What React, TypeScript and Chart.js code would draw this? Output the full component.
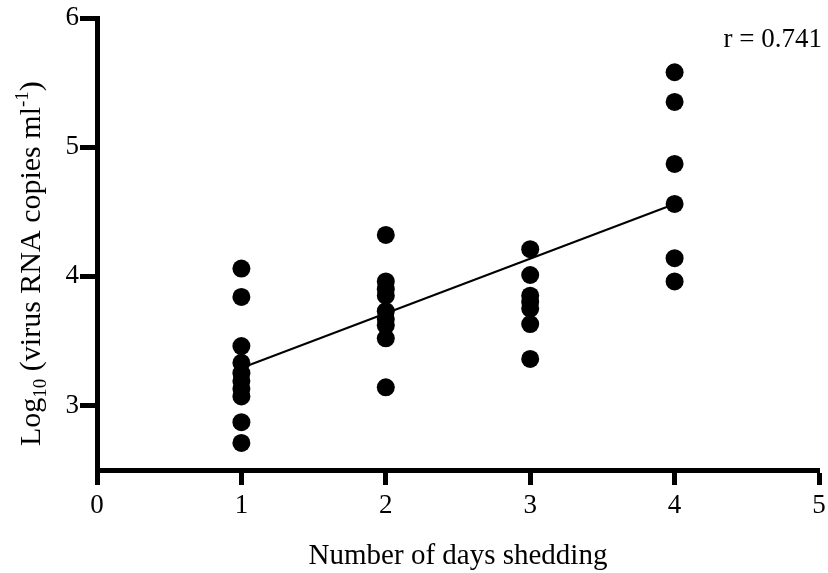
import React, { useEffect, useRef } from "react";
import { Chart, registerables } from "chart.js";

Chart.register(...registerables);

const days = [1, 2, 3, 4];
const day1Values = [4.06, 3.84, 3.46, 3.33, 3.25, 3.19, 3.13, 3.07, 2.87, 2.71];
const day2Values = [4.32, 3.96, 3.9, 3.85, 3.73, 3.67, 3.62, 3.52, 3.14];
const day3Values = [4.21, 4.01, 3.85, 3.8, 3.75, 3.63, 3.36];
const day4Values = [5.58, 5.35, 4.87, 4.56, 4.14, 3.96];
const fitX = [1, 4];
const fitY = [3.29, 4.56];
const xTicks = [0, 1, 2, 3, 4, 5];
const yTicks = [3, 4, 5, 6];
const xTitle = "Number of days shedding";
const rLabel = "r = 0.741";

const FONT = "'Liberation Serif', 'Times New Roman', serif";

const titlePlugin = {
  id: "customTitles",
  afterDraw(chart: any) {
    const ctx = chart.ctx;
    ctx.save();
    ctx.fillStyle = "#000";
    // x title
    ctx.font = `29px ${FONT}`;
    ctx.textAlign = "center";
    ctx.textBaseline = "alphabetic";
    ctx.fillText(xTitle, 458, 564);
    // r label
    ctx.font = `27px ${FONT}`;
    ctx.textAlign = "right";
    ctx.fillText(rLabel, 822, 47);
    // y title rotated with sub/superscript
    ctx.translate(40, 446);
    ctx.rotate(-Math.PI / 2);
    ctx.textAlign = "left";
    const parts: { t: string; size: number; dy: number }[] = [
      { t: "Log", size: 30, dy: 0 },
      { t: "10", size: 19, dy: 6 },
      { t: " (virus RNA copies ml", size: 30, dy: 0 },
      { t: "-1", size: 19, dy: -12 },
      { t: ")", size: 30, dy: 0 },
    ];
    let x = 0;
    for (const p of parts) {
      ctx.font = `${p.size}px ${FONT}`;
      ctx.fillText(p.t, x, p.dy);
      x += ctx.measureText(p.t).width;
    }
    ctx.restore();
  },
};

export default function App() {
  const ref = useRef<HTMLCanvasElement>(null);
  useEffect(() => {
    if (!ref.current) return;
    const toPts = (day: number, vals: number[]) => vals.map((v) => ({ x: day, y: v }));
    const points = [
      ...toPts(days[0], day1Values),
      ...toPts(days[1], day2Values),
      ...toPts(days[2], day3Values),
      ...toPts(days[3], day4Values),
    ];
    const chart = new Chart(ref.current, {
      type: "scatter",
      data: {
        datasets: [
          {
            type: "line",
            data: fitX.map((x, i) => ({ x, y: fitY[i] })),
            borderColor: "#000",
            borderWidth: 2,
            pointRadius: 0,
            fill: false,
          } as any,
          {
            data: points,
            backgroundColor: "#000",
            borderColor: "#000",
            borderWidth: 0,
            pointRadius: 9,
          },
        ],
      },
      options: {
        animation: false,
        responsive: false,
        maintainAspectRatio: false,
        layout: { padding: { left: 0, right: 8, top: 18, bottom: 0 } },
        plugins: {
          legend: { display: false },
          tooltip: { enabled: false },
        },
        scales: {
          x: {
            type: "linear",
            min: 0,
            max: 5,
            afterFit: (s: any) => {
              s.height = 103;
              s.paddingRight = 0;
              s.paddingLeft = 0;
            },
            afterBuildTicks: (s: any) => {
              s.ticks = xTicks.map((v) => ({ value: v }));
            },
            border: { display: true, color: "#000", width: 5 },
            grid: {
              display: true,
              drawOnChartArea: false,
              drawTicks: true,
              tickLength: 15,
              tickWidth: 5,
              tickColor: "#000",
            },
            ticks: {
              color: "#000",
              padding: 5,
              font: { family: FONT, size: 27 },
            },
          },
          y: {
            type: "linear",
            min: 2.5,
            max: 6,
            afterFit: (s: any) => {
              s.width = 97;
            },
            afterBuildTicks: (s: any) => {
              s.ticks = yTicks.map((v) => ({ value: v }));
            },
            border: { display: true, color: "#000", width: 5 },
            grid: {
              display: true,
              drawOnChartArea: false,
              drawTicks: true,
              tickLength: 17,
              tickWidth: 5,
              tickColor: "#000",
            },
            ticks: {
              color: "#000",
              padding: 1,
              font: { family: FONT, size: 27 },
            },
          },
        },
      },
      plugins: [titlePlugin],
    });
    return () => chart.destroy();
  }, []);
  return (
    <div style={{ position: "fixed", left: 0, top: 0, width: 828, height: 573, background: "#fff" }}>
      <canvas ref={ref} width={828} height={573} style={{ width: 828, height: 573 }} />
    </div>
  );
}
